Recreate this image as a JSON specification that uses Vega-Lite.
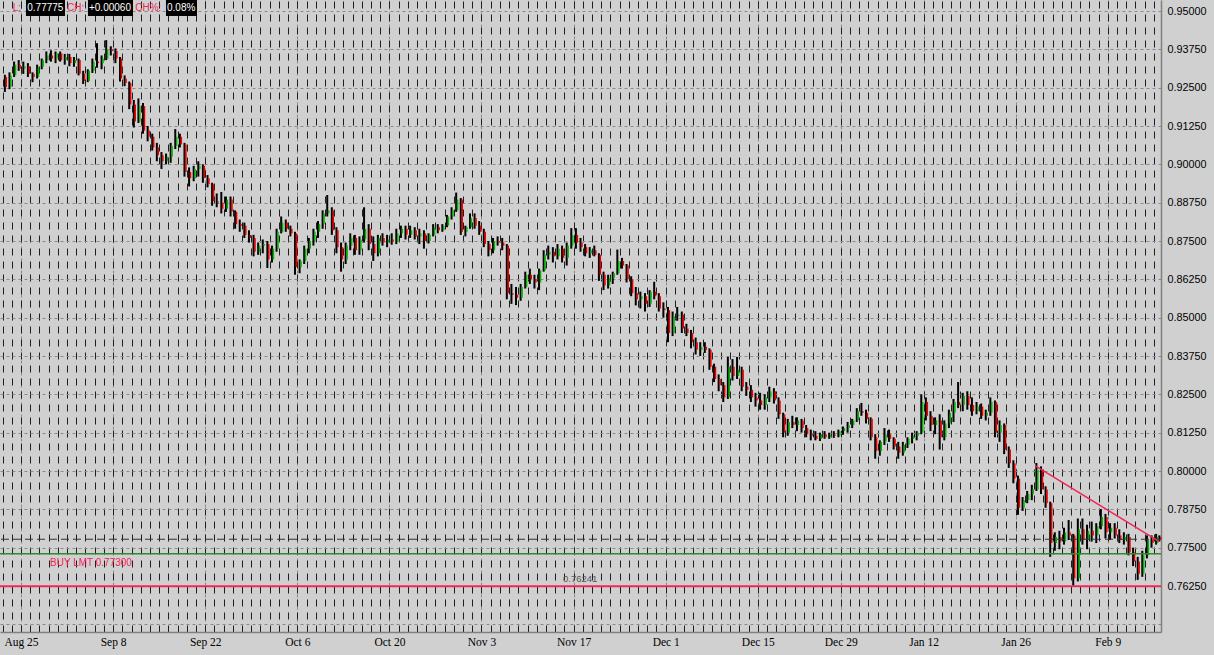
{
"$schema":"https://vega.github.io/schema/vega-lite/v6.json",
"width":1161,"height":632,
"autosize":{"type":"none"},
"padding":{"left":0,"top":0,"right":53,"bottom":23},
"background":"#d0d0d0",
"config":{"view":{"stroke":null},"font":"Liberation Sans","axis":{"labelOverlap":false}},
"resolve":{"axis":{"x":"independent","y":"independent"}},
"datasets":{
"bars":[
{"d":-1.75,"o":0.9285,"h":0.9292,"l":0.9236,"c":0.9252},
{"d":-1.25,"o":0.9252,"h":0.9300,"l":0.9245,"c":0.9290},
{"d":-0.75,"o":0.9290,"h":0.9335,"l":0.9285,"c":0.9325},
{"d":-0.25,"o":0.9325,"h":0.9340,"l":0.9305,"c":0.9312},
{"d":0.25,"o":0.9312,"h":0.9335,"l":0.9295,"c":0.9320},
{"d":0.75,"o":0.9320,"h":0.9330,"l":0.9285,"c":0.9295},
{"d":1.25,"o":0.9295,"h":0.9300,"l":0.9268,"c":0.9285},
{"d":1.75,"o":0.9285,"h":0.9325,"l":0.9280,"c":0.9318},
{"d":2.25,"o":0.9318,"h":0.9345,"l":0.9310,"c":0.9340},
{"d":2.75,"o":0.9340,"h":0.9368,"l":0.9330,"c":0.9355},
{"d":3.25,"o":0.9355,"h":0.9372,"l":0.9335,"c":0.9345},
{"d":3.75,"o":0.9345,"h":0.9368,"l":0.9330,"c":0.9362},
{"d":4.25,"o":0.9362,"h":0.9368,"l":0.9335,"c":0.9340},
{"d":4.75,"o":0.9340,"h":0.9360,"l":0.9325,"c":0.9350},
{"d":5.25,"o":0.9350,"h":0.9360,"l":0.9320,"c":0.9330},
{"d":5.75,"o":0.9330,"h":0.9350,"l":0.9318,"c":0.9340},
{"d":6.25,"o":0.9340,"h":0.9345,"l":0.9290,"c":0.9295},
{"d":6.75,"o":0.9295,"h":0.9305,"l":0.9262,"c":0.9272},
{"d":7.25,"o":0.9272,"h":0.9310,"l":0.9268,"c":0.9305},
{"d":7.75,"o":0.9305,"h":0.9345,"l":0.9298,"c":0.9335},
{"d":8.25,"o":0.9335,"h":0.9395,"l":0.9315,"c":0.9330},
{"d":8.75,"o":0.9330,"h":0.9355,"l":0.9310,"c":0.9345},
{"d":9.25,"o":0.9345,"h":0.9405,"l":0.9340,"c":0.9375},
{"d":9.75,"o":0.9375,"h":0.9385,"l":0.9355,"c":0.9370},
{"d":10.25,"o":0.9370,"h":0.9378,"l":0.9330,"c":0.9345},
{"d":10.75,"o":0.9345,"h":0.9350,"l":0.9270,"c":0.9280},
{"d":11.25,"o":0.9280,"h":0.9290,"l":0.9255,"c":0.9265},
{"d":11.75,"o":0.9265,"h":0.9270,"l":0.9180,"c":0.9195},
{"d":12.25,"o":0.9195,"h":0.9210,"l":0.9120,"c":0.9140},
{"d":12.75,"o":0.9140,"h":0.9215,"l":0.9135,"c":0.9190},
{"d":13.25,"o":0.9190,"h":0.9200,"l":0.9100,"c":0.9110},
{"d":13.75,"o":0.9110,"h":0.9125,"l":0.9075,"c":0.9090},
{"d":14.25,"o":0.9090,"h":0.9100,"l":0.9045,"c":0.9055},
{"d":14.75,"o":0.9055,"h":0.9070,"l":0.9010,"c":0.9030},
{"d":15.25,"o":0.9030,"h":0.9040,"l":0.8985,"c":0.9010},
{"d":15.75,"o":0.9010,"h":0.9035,"l":0.9000,"c":0.9025},
{"d":16.25,"o":0.9025,"h":0.9070,"l":0.9005,"c":0.9060},
{"d":16.75,"o":0.9060,"h":0.9115,"l":0.9050,"c":0.9090},
{"d":17.25,"o":0.9090,"h":0.9100,"l":0.9055,"c":0.9065},
{"d":17.75,"o":0.9065,"h":0.9070,"l":0.8960,"c":0.8975},
{"d":18.25,"o":0.8975,"h":0.8990,"l":0.8928,"c":0.8955},
{"d":18.75,"o":0.8955,"h":0.8995,"l":0.8945,"c":0.8985},
{"d":19.25,"o":0.8985,"h":0.9010,"l":0.8960,"c":0.8995},
{"d":19.75,"o":0.8995,"h":0.9000,"l":0.8940,"c":0.8955},
{"d":20.25,"o":0.8955,"h":0.8965,"l":0.8925,"c":0.8935},
{"d":20.75,"o":0.8935,"h":0.8940,"l":0.8865,"c":0.8880},
{"d":21.25,"o":0.8880,"h":0.8905,"l":0.8860,"c":0.8875},
{"d":21.75,"o":0.8875,"h":0.8910,"l":0.8840,"c":0.8855},
{"d":22.25,"o":0.8855,"h":0.8895,"l":0.8845,"c":0.8885},
{"d":22.75,"o":0.8885,"h":0.8895,"l":0.8830,"c":0.8845},
{"d":23.25,"o":0.8845,"h":0.8850,"l":0.8790,"c":0.8805},
{"d":23.75,"o":0.8805,"h":0.8820,"l":0.8780,"c":0.8800},
{"d":24.25,"o":0.8800,"h":0.8810,"l":0.8760,"c":0.8770},
{"d":24.75,"o":0.8770,"h":0.8785,"l":0.8745,"c":0.8760},
{"d":25.25,"o":0.8760,"h":0.8770,"l":0.8700,"c":0.8715},
{"d":25.75,"o":0.8715,"h":0.8745,"l":0.8705,"c":0.8735},
{"d":26.25,"o":0.8735,"h":0.8755,"l":0.8710,"c":0.8740},
{"d":26.75,"o":0.8740,"h":0.8750,"l":0.8662,"c":0.8690},
{"d":27.25,"o":0.8690,"h":0.8735,"l":0.8680,"c":0.8725},
{"d":27.75,"o":0.8725,"h":0.8790,"l":0.8715,"c":0.8780},
{"d":28.25,"o":0.8780,"h":0.8830,"l":0.8775,"c":0.8810},
{"d":28.75,"o":0.8810,"h":0.8820,"l":0.8780,"c":0.8790},
{"d":29.25,"o":0.8790,"h":0.8800,"l":0.8765,"c":0.8775},
{"d":29.75,"o":0.8775,"h":0.8780,"l":0.8640,"c":0.8665},
{"d":30.25,"o":0.8665,"h":0.8690,"l":0.8645,"c":0.8685},
{"d":30.75,"o":0.8685,"h":0.8735,"l":0.8675,"c":0.8725},
{"d":31.25,"o":0.8725,"h":0.8760,"l":0.8710,"c":0.8750},
{"d":31.75,"o":0.8750,"h":0.8790,"l":0.8735,"c":0.8780},
{"d":32.25,"o":0.8780,"h":0.8815,"l":0.8760,"c":0.8805},
{"d":32.75,"o":0.8805,"h":0.8850,"l":0.8790,"c":0.8840},
{"d":33.25,"o":0.8840,"h":0.8900,"l":0.8830,"c":0.8850},
{"d":33.75,"o":0.8850,"h":0.8860,"l":0.8770,"c":0.8785},
{"d":34.25,"o":0.8785,"h":0.8795,"l":0.8710,"c":0.8730},
{"d":34.75,"o":0.8730,"h":0.8745,"l":0.8650,"c":0.8690},
{"d":35.25,"o":0.8690,"h":0.8745,"l":0.8675,"c":0.8735},
{"d":35.75,"o":0.8735,"h":0.8775,"l":0.8720,"c":0.8760},
{"d":36.25,"o":0.8760,"h":0.8770,"l":0.8705,"c":0.8720},
{"d":36.75,"o":0.8720,"h":0.8765,"l":0.8705,"c":0.8755},
{"d":37.25,"o":0.8755,"h":0.8860,"l":0.8745,"c":0.8790},
{"d":37.75,"o":0.8790,"h":0.8805,"l":0.8720,"c":0.8740},
{"d":38.25,"o":0.8740,"h":0.8765,"l":0.8685,"c":0.8710},
{"d":38.75,"o":0.8710,"h":0.8770,"l":0.8700,"c":0.8760},
{"d":39.25,"o":0.8760,"h":0.8775,"l":0.8735,"c":0.8745},
{"d":39.75,"o":0.8745,"h":0.8770,"l":0.8730,"c":0.8755},
{"d":40.25,"o":0.8755,"h":0.8775,"l":0.8738,"c":0.8748},
{"d":40.75,"o":0.8748,"h":0.8790,"l":0.8740,"c":0.8775},
{"d":41.25,"o":0.8775,"h":0.8800,"l":0.8760,"c":0.8790},
{"d":41.75,"o":0.8790,"h":0.8800,"l":0.8755,"c":0.8770},
{"d":42.25,"o":0.8770,"h":0.8800,"l":0.8760,"c":0.8785},
{"d":42.75,"o":0.8785,"h":0.8795,"l":0.8755,"c":0.8765},
{"d":43.25,"o":0.8765,"h":0.8790,"l":0.8740,"c":0.8775},
{"d":43.75,"o":0.8775,"h":0.8785,"l":0.8725,"c":0.8750},
{"d":44.25,"o":0.8750,"h":0.8775,"l":0.8742,"c":0.8770},
{"d":44.75,"o":0.8770,"h":0.8805,"l":0.8765,"c":0.8795},
{"d":45.25,"o":0.8795,"h":0.8805,"l":0.8775,"c":0.8785},
{"d":45.75,"o":0.8785,"h":0.8805,"l":0.8780,"c":0.8800},
{"d":46.25,"o":0.8800,"h":0.8835,"l":0.8795,"c":0.8830},
{"d":46.75,"o":0.8830,"h":0.8860,"l":0.8820,"c":0.8850},
{"d":47.25,"o":0.8850,"h":0.8908,"l":0.8845,"c":0.8885},
{"d":47.75,"o":0.8885,"h":0.8890,"l":0.8770,"c":0.8780},
{"d":48.25,"o":0.8780,"h":0.8800,"l":0.8765,"c":0.8795},
{"d":48.75,"o":0.8795,"h":0.8840,"l":0.8790,"c":0.8825},
{"d":49.25,"o":0.8825,"h":0.8840,"l":0.8790,"c":0.8800},
{"d":49.75,"o":0.8800,"h":0.8815,"l":0.8770,"c":0.8780},
{"d":50.25,"o":0.8780,"h":0.8790,"l":0.8730,"c":0.8740},
{"d":50.75,"o":0.8740,"h":0.8750,"l":0.8700,"c":0.8720},
{"d":51.25,"o":0.8720,"h":0.8760,"l":0.8710,"c":0.8750},
{"d":51.75,"o":0.8750,"h":0.8765,"l":0.8735,"c":0.8745},
{"d":52.25,"o":0.8745,"h":0.8760,"l":0.8720,"c":0.8735},
{"d":52.75,"o":0.8735,"h":0.8740,"l":0.8560,"c":0.8580},
{"d":53.25,"o":0.8580,"h":0.8610,"l":0.8545,"c":0.8575},
{"d":53.75,"o":0.8575,"h":0.8600,"l":0.8541,"c":0.8565},
{"d":54.25,"o":0.8565,"h":0.8610,"l":0.8555,"c":0.8600},
{"d":54.75,"o":0.8600,"h":0.8650,"l":0.8595,"c":0.8640},
{"d":55.25,"o":0.8640,"h":0.8660,"l":0.8610,"c":0.8625},
{"d":55.75,"o":0.8625,"h":0.8640,"l":0.8595,"c":0.8615},
{"d":56.25,"o":0.8615,"h":0.8660,"l":0.8590,"c":0.8655},
{"d":56.75,"o":0.8655,"h":0.8720,"l":0.8650,"c":0.8705},
{"d":57.25,"o":0.8705,"h":0.8735,"l":0.8690,"c":0.8715},
{"d":57.75,"o":0.8715,"h":0.8730,"l":0.8680,"c":0.8700},
{"d":58.25,"o":0.8700,"h":0.8740,"l":0.8690,"c":0.8725},
{"d":58.75,"o":0.8725,"h":0.8735,"l":0.8680,"c":0.8695},
{"d":59.25,"o":0.8695,"h":0.8745,"l":0.8670,"c":0.8735},
{"d":59.75,"o":0.8735,"h":0.8792,"l":0.8725,"c":0.8770},
{"d":60.25,"o":0.8770,"h":0.8792,"l":0.8725,"c":0.8745},
{"d":60.75,"o":0.8745,"h":0.8760,"l":0.8715,"c":0.8730},
{"d":61.25,"o":0.8730,"h":0.8740,"l":0.8700,"c":0.8710},
{"d":61.75,"o":0.8710,"h":0.8730,"l":0.8695,"c":0.8720},
{"d":62.25,"o":0.8720,"h":0.8735,"l":0.8700,"c":0.8705},
{"d":62.75,"o":0.8705,"h":0.8710,"l":0.8620,"c":0.8640},
{"d":63.25,"o":0.8640,"h":0.8650,"l":0.8590,"c":0.8605},
{"d":63.75,"o":0.8605,"h":0.8640,"l":0.8595,"c":0.8630},
{"d":64.25,"o":0.8630,"h":0.8650,"l":0.8610,"c":0.8645},
{"d":64.75,"o":0.8645,"h":0.8722,"l":0.8640,"c":0.8685},
{"d":65.25,"o":0.8685,"h":0.8695,"l":0.8660,"c":0.8670},
{"d":65.75,"o":0.8670,"h":0.8675,"l":0.8615,"c":0.8625},
{"d":66.25,"o":0.8625,"h":0.8635,"l":0.8570,"c":0.8580},
{"d":66.75,"o":0.8580,"h":0.8600,"l":0.8540,"c":0.8560},
{"d":67.25,"o":0.8560,"h":0.8585,"l":0.8530,"c":0.8570},
{"d":67.75,"o":0.8570,"h":0.8580,"l":0.8520,"c":0.8545},
{"d":68.25,"o":0.8545,"h":0.8590,"l":0.8535,"c":0.8585},
{"d":68.75,"o":0.8585,"h":0.8617,"l":0.8560,"c":0.8570},
{"d":69.25,"o":0.8570,"h":0.8580,"l":0.8520,"c":0.8530},
{"d":69.75,"o":0.8530,"h":0.8550,"l":0.8500,"c":0.8525},
{"d":70.25,"o":0.8525,"h":0.8535,"l":0.8420,"c":0.8450},
{"d":70.75,"o":0.8450,"h":0.8520,"l":0.8440,"c":0.8505},
{"d":71.25,"o":0.8505,"h":0.8535,"l":0.8490,"c":0.8510},
{"d":71.75,"o":0.8510,"h":0.8520,"l":0.8450,"c":0.8465},
{"d":72.25,"o":0.8465,"h":0.8480,"l":0.8440,"c":0.8450},
{"d":72.75,"o":0.8450,"h":0.8460,"l":0.8400,"c":0.8420},
{"d":73.25,"o":0.8420,"h":0.8435,"l":0.8380,"c":0.8395},
{"d":73.75,"o":0.8395,"h":0.8420,"l":0.8375,"c":0.8405},
{"d":74.25,"o":0.8405,"h":0.8420,"l":0.8385,"c":0.8395},
{"d":74.75,"o":0.8395,"h":0.8400,"l":0.8330,"c":0.8340},
{"d":75.25,"o":0.8340,"h":0.8350,"l":0.8290,"c":0.8300},
{"d":75.75,"o":0.8300,"h":0.8315,"l":0.8260,"c":0.8280},
{"d":76.25,"o":0.8280,"h":0.8290,"l":0.8225,"c":0.8240},
{"d":76.75,"o":0.8240,"h":0.8372,"l":0.8235,"c":0.8340},
{"d":77.25,"o":0.8340,"h":0.8365,"l":0.8295,"c":0.8310},
{"d":77.75,"o":0.8310,"h":0.8372,"l":0.8300,"c":0.8330},
{"d":78.25,"o":0.8330,"h":0.8340,"l":0.8260,"c":0.8275},
{"d":78.75,"o":0.8275,"h":0.8290,"l":0.8245,"c":0.8265},
{"d":79.25,"o":0.8265,"h":0.8280,"l":0.8225,"c":0.8240},
{"d":79.75,"o":0.8240,"h":0.8255,"l":0.8210,"c":0.8230},
{"d":80.25,"o":0.8230,"h":0.8255,"l":0.8200,"c":0.8215},
{"d":80.75,"o":0.8215,"h":0.8250,"l":0.8200,"c":0.8240},
{"d":81.25,"o":0.8240,"h":0.8275,"l":0.8225,"c":0.8260},
{"d":81.75,"o":0.8260,"h":0.8270,"l":0.8220,"c":0.8230},
{"d":82.25,"o":0.8230,"h":0.8240,"l":0.8170,"c":0.8185},
{"d":82.75,"o":0.8185,"h":0.8190,"l":0.8110,"c":0.8125},
{"d":83.25,"o":0.8125,"h":0.8170,"l":0.8115,"c":0.8160},
{"d":83.75,"o":0.8160,"h":0.8180,"l":0.8140,"c":0.8150},
{"d":84.25,"o":0.8150,"h":0.8175,"l":0.8130,"c":0.8165},
{"d":84.75,"o":0.8165,"h":0.8170,"l":0.8125,"c":0.8140},
{"d":85.25,"o":0.8140,"h":0.8150,"l":0.8110,"c":0.8120},
{"d":85.75,"o":0.8120,"h":0.8135,"l":0.8100,"c":0.8115},
{"d":86.25,"o":0.8115,"h":0.8130,"l":0.8100,"c":0.8105},
{"d":86.75,"o":0.8105,"h":0.8125,"l":0.8098,"c":0.8120},
{"d":87.25,"o":0.8120,"h":0.8130,"l":0.8105,"c":0.8110},
{"d":87.75,"o":0.8110,"h":0.8125,"l":0.8105,"c":0.8118},
{"d":88.25,"o":0.8118,"h":0.8130,"l":0.8108,"c":0.8115},
{"d":88.75,"o":0.8115,"h":0.8135,"l":0.8110,"c":0.8130},
{"d":89.25,"o":0.8130,"h":0.8145,"l":0.8118,"c":0.8140},
{"d":89.75,"o":0.8140,"h":0.8160,"l":0.8125,"c":0.8150},
{"d":90.25,"o":0.8150,"h":0.8170,"l":0.8140,"c":0.8165},
{"d":90.75,"o":0.8165,"h":0.8205,"l":0.8160,"c":0.8195},
{"d":91.25,"o":0.8195,"h":0.8222,"l":0.8180,"c":0.8190},
{"d":91.75,"o":0.8190,"h":0.8200,"l":0.8155,"c":0.8170},
{"d":92.25,"o":0.8170,"h":0.8175,"l":0.8100,"c":0.8110},
{"d":92.75,"o":0.8110,"h":0.8120,"l":0.8040,"c":0.8065},
{"d":93.25,"o":0.8065,"h":0.8100,"l":0.8050,"c":0.8095},
{"d":93.75,"o":0.8095,"h":0.8140,"l":0.8085,"c":0.8120},
{"d":94.25,"o":0.8120,"h":0.8135,"l":0.8095,"c":0.8105},
{"d":94.75,"o":0.8105,"h":0.8110,"l":0.8070,"c":0.8080},
{"d":95.25,"o":0.8080,"h":0.8095,"l":0.8040,"c":0.8060},
{"d":95.75,"o":0.8060,"h":0.8095,"l":0.8050,"c":0.8085},
{"d":96.25,"o":0.8085,"h":0.8110,"l":0.8075,"c":0.8105},
{"d":96.75,"o":0.8105,"h":0.8125,"l":0.8090,"c":0.8115},
{"d":97.25,"o":0.8115,"h":0.8130,"l":0.8100,"c":0.8125},
{"d":97.75,"o":0.8125,"h":0.8250,"l":0.8120,"c":0.8225},
{"d":98.25,"o":0.8225,"h":0.8240,"l":0.8165,"c":0.8180},
{"d":98.75,"o":0.8180,"h":0.8195,"l":0.8130,"c":0.8150},
{"d":99.25,"o":0.8150,"h":0.8175,"l":0.8120,"c":0.8165},
{"d":99.75,"o":0.8165,"h":0.8185,"l":0.8070,"c":0.8110},
{"d":100.25,"o":0.8110,"h":0.8165,"l":0.8100,"c":0.8155},
{"d":100.75,"o":0.8155,"h":0.8200,"l":0.8140,"c":0.8190},
{"d":101.25,"o":0.8190,"h":0.8235,"l":0.8160,"c":0.8225},
{"d":101.75,"o":0.8225,"h":0.8290,"l":0.8205,"c":0.8215},
{"d":102.25,"o":0.8215,"h":0.8255,"l":0.8195,"c":0.8245},
{"d":102.75,"o":0.8245,"h":0.8260,"l":0.8200,"c":0.8215},
{"d":103.25,"o":0.8215,"h":0.8240,"l":0.8180,"c":0.8195},
{"d":103.75,"o":0.8195,"h":0.8225,"l":0.8185,"c":0.8210},
{"d":104.25,"o":0.8210,"h":0.8220,"l":0.8170,"c":0.8180},
{"d":104.75,"o":0.8180,"h":0.8200,"l":0.8165,"c":0.8190},
{"d":105.25,"o":0.8190,"h":0.8240,"l":0.8180,"c":0.8225},
{"d":105.75,"o":0.8225,"h":0.8230,"l":0.8110,"c":0.8125},
{"d":106.25,"o":0.8125,"h":0.8165,"l":0.8095,"c":0.8150},
{"d":106.75,"o":0.8150,"h":0.8155,"l":0.8055,"c":0.8070},
{"d":107.25,"o":0.8070,"h":0.8080,"l":0.8010,"c":0.8025},
{"d":107.75,"o":0.8025,"h":0.8035,"l":0.7960,"c":0.7975},
{"d":108.25,"o":0.7975,"h":0.7985,"l":0.7857,"c":0.7880},
{"d":108.75,"o":0.7880,"h":0.7915,"l":0.7870,"c":0.7905},
{"d":109.25,"o":0.7905,"h":0.7935,"l":0.7895,"c":0.7925},
{"d":109.75,"o":0.7925,"h":0.7955,"l":0.7905,"c":0.7940},
{"d":110.25,"o":0.7940,"h":0.8026,"l":0.7935,"c":0.8005},
{"d":110.75,"o":0.8005,"h":0.8015,"l":0.7925,"c":0.7940},
{"d":111.25,"o":0.7940,"h":0.7950,"l":0.7880,"c":0.7895},
{"d":111.75,"o":0.7895,"h":0.7900,"l":0.7720,"c":0.7765},
{"d":112.25,"o":0.7765,"h":0.7800,"l":0.7740,"c":0.7785},
{"d":112.75,"o":0.7785,"h":0.7805,"l":0.7745,"c":0.7770},
{"d":113.25,"o":0.7770,"h":0.7815,"l":0.7760,"c":0.7800},
{"d":113.75,"o":0.7800,"h":0.7840,"l":0.7775,"c":0.7790},
{"d":114.25,"o":0.7790,"h":0.7795,"l":0.7626,"c":0.7650},
{"d":114.75,"o":0.7650,"h":0.7845,"l":0.7640,"c":0.7810},
{"d":115.25,"o":0.7810,"h":0.7845,"l":0.7760,"c":0.7775},
{"d":115.75,"o":0.7775,"h":0.7825,"l":0.7745,"c":0.7805},
{"d":116.25,"o":0.7805,"h":0.7835,"l":0.7770,"c":0.7790},
{"d":116.75,"o":0.7790,"h":0.7830,"l":0.7765,"c":0.7820},
{"d":117.25,"o":0.7820,"h":0.7876,"l":0.7810,"c":0.7850},
{"d":117.75,"o":0.7850,"h":0.7860,"l":0.7780,"c":0.7800},
{"d":118.25,"o":0.7800,"h":0.7830,"l":0.7775,"c":0.7815},
{"d":118.75,"o":0.7815,"h":0.7830,"l":0.7780,"c":0.7790},
{"d":119.25,"o":0.7790,"h":0.7810,"l":0.7765,"c":0.7775},
{"d":119.75,"o":0.7775,"h":0.7800,"l":0.7760,"c":0.7785},
{"d":120.25,"o":0.7785,"h":0.7795,"l":0.7725,"c":0.7735},
{"d":120.75,"o":0.7735,"h":0.7750,"l":0.7690,"c":0.7705},
{"d":121.25,"o":0.7705,"h":0.7720,"l":0.7645,"c":0.7665},
{"d":121.75,"o":0.7665,"h":0.7740,"l":0.7655,"c":0.7725},
{"d":122.25,"o":0.7725,"h":0.7790,"l":0.7715,"c":0.7775},
{"d":122.75,"o":0.7775,"h":0.7790,"l":0.7750,"c":0.7765},
{"d":123.25,"o":0.7765,"h":0.7795,"l":0.7760,"c":0.7785},
{"d":123.6,"o":0.7785,"h":0.7790,"l":0.7770,"c":0.77775}
],
"trend":[{"d":110.1,"p":0.80173},{"d":123.6,"p":0.77694}],
"boxes":[{"d1":0.54,"d2":4.78,"p1":0.94837,"p2":0.95359},{"d1":7.27,"d2":12.16,"p1":0.94837,"p2":0.95359},{"d1":15.74,"d2":19.11,"p1":0.94837,"p2":0.95359}],
"header":[
{"d":-0.9,"p":0.95098,"t":"L:","k":"key"},
{"d":0.68,"p":0.95098,"t":"0.77775","k":"val"},
{"d":5.0,"p":0.95098,"t":"CH:","k":"key"},
{"d":7.38,"p":0.95098,"t":"+0.00060","k":"val"},
{"d":12.4,"p":0.95098,"t":"CH%:","k":"key"},
{"d":15.85,"p":0.95098,"t":"0.08%","k":"val"}
]
},
"layer":[
{"data":{"name":"bars"},
 "mark":{"type":"rule","color":"#000000","strokeWidth":2},
 "encoding":{
  "x":{"field":"d","type":"quantitative","scale":{"domain":[-2.28,123.78],"nice":false,"zero":false},
   "axis":{"orient":"bottom","title":null,"values":[0,10,20,30,40,50,60,70,80,89,98,108,118],
    "labelExpr":"['Aug 25','Sep 8','Sep 22','Oct 6','Oct 20','Nov 3','Nov 17','Dec 1','Dec 15','Dec 29','Jan 12','Jan 26','Feb 9'][indexof([0,10,20,30,40,50,60,70,80,89,98,108,118], datum.value)]",
    "grid":true,"gridColor":"#8a8a8a","gridDash":[3,3],"gridWidth":1,"ticks":false,"labelPadding":4,
    "labelFont":"Liberation Serif","labelFontSize":11.5,"labelColor":"#000000","labelOverlap":false,"labelFlush":false,
    "domainColor":"#808080","domainWidth":1.5}},
  "y":{"field":"l","type":"quantitative","title":null,"scale":{"domain":[0.7475,0.95359],"nice":false,"zero":false},
   "axis":{"orient":"right","title":null,"values":[0.75,0.7625,0.775,0.7875,0.8,0.8125,0.825,0.8375,0.85,0.8625,0.875,0.8875,0.9,0.9125,0.925,0.9375,0.95],
    "labelExpr":"datum.value < 0.76 ? '' : format(datum.value, '.5f')",
    "grid":true,"gridColor":"#8a8a8a","gridDash":[3,3],"gridWidth":1,"ticks":false,"labelPadding":6,
    "labelFont":"Liberation Sans","labelFontSize":10.8,"labelColor":"#000000","labelOverlap":false,"labelFlush":false,"labelBound":false,
    "domainColor":"#808080","domainWidth":1.5}},
  "y2":{"field":"h"}
 }},
{"data":{"name":"bars"},
 "mark":{"type":"rule","strokeWidth":1.6,"xOffset":1.4},
 "encoding":{
  "x":{"field":"d","type":"quantitative","scale":{"domain":[-2.28,123.78],"nice":false,"zero":false},
   "axis":{"orient":"top","title":null,"labels":false,"ticks":false,"domain":false,"grid":true,"gridColor":"#1e1e1e","gridDash":[7,6],"gridWidth":1,
    "values":[-2,-1,0,1,2,3,4,5,6,7,8,9,10,11,12,13,14,15,16,17,18,19,20,21,22,23,24,25,26,27,28,29,30,31,32,33,34,35,36,37,38,39,40,41,42,43,44,45,46,47,48,49,50,51,52,53,54,55,56,57,58,59,60,61,62,63,64,65,66,67,68,69,70,71,72,73,74,75,76,77,78,79,80,81,82,83,84,85,86,87,88,89,90,91,92,93,94,95,96,97,98,99,100,101,102,103,104,105,106,107,108,109,110,111,112,113,114,115,116,117,118,119,120,121,122,123]}},
  "y":{"field":"o","type":"quantitative","title":null,"axis":null,"scale":{"domain":[0.7475,0.95359],"nice":false,"zero":false}},
  "y2":{"field":"c"},
  "color":{"condition":{"test":"datum.c >= datum.o","value":"#00b400"},"value":"#e60000"}
 }},
{"data":{"values":[{"p":0.77775}]},
 "mark":{"type":"rule","color":"#333333","strokeWidth":1,"strokeDash":[8,4]},
 "encoding":{"y":{"field":"p","type":"quantitative","title":null,"axis":null,"scale":{"domain":[0.7475,0.95359],"nice":false,"zero":false}}}},
{"data":{"values":[{"p":0.773}]},
 "mark":{"type":"rule","color":"#2f8a2f","strokeWidth":1.5},
 "encoding":{"y":{"field":"p","type":"quantitative","title":null,"axis":null,"scale":{"domain":[0.7475,0.95359],"nice":false,"zero":false}}}},
{"data":{"values":[{"p":0.76241}]},
 "mark":{"type":"rule","color":"#f0265a","strokeWidth":2},
 "encoding":{"y":{"field":"p","type":"quantitative","title":null,"axis":null,"scale":{"domain":[0.7475,0.95359],"nice":false,"zero":false}}}},
{"data":{"name":"trend"},
 "mark":{"type":"line","color":"#f0265a","strokeWidth":1.5},
 "encoding":{
  "x":{"field":"d","type":"quantitative","axis":null,"scale":{"domain":[-2.28,123.78],"nice":false,"zero":false}},
  "y":{"field":"p","type":"quantitative","title":null,"axis":null,"scale":{"domain":[0.7475,0.95359],"nice":false,"zero":false}}}},
{"data":{"values":[{"d":3.15,"p":0.773,"t":"BUY LMT 0.77300"}]},
 "mark":{"type":"text","align":"left","baseline":"top","dy":4,"fontSize":10,"font":"Liberation Sans","color":"#f0265a"},
 "encoding":{
  "x":{"field":"d","type":"quantitative","axis":null,"scale":{"domain":[-2.28,123.78],"nice":false,"zero":false}},
  "y":{"field":"p","type":"quantitative","title":null,"axis":null,"scale":{"domain":[0.7475,0.95359],"nice":false,"zero":false}},
  "text":{"field":"t"}}},
{"data":{"values":[{"d":58.85,"p":0.76241,"t":"0.76241"}]},
 "mark":{"type":"text","align":"left","baseline":"bottom","dy":-2,"fontSize":9.5,"font":"Liberation Sans","color":"#555555"},
 "encoding":{
  "x":{"field":"d","type":"quantitative","axis":null,"scale":{"domain":[-2.28,123.78],"nice":false,"zero":false}},
  "y":{"field":"p","type":"quantitative","title":null,"axis":null,"scale":{"domain":[0.7475,0.95359],"nice":false,"zero":false}},
  "text":{"field":"t"}}},
{"data":{"name":"boxes"},
 "mark":{"type":"rect","color":"#000000"},
 "encoding":{
  "x":{"field":"d1","type":"quantitative","axis":null,"scale":{"domain":[-2.28,123.78],"nice":false,"zero":false}},
  "x2":{"field":"d2"},
  "y":{"field":"p1","type":"quantitative","title":null,"axis":null,"scale":{"domain":[0.7475,0.95359],"nice":false,"zero":false}},
  "y2":{"field":"p2"}}},
{"data":{"name":"header"},
 "mark":{"type":"text","align":"left","baseline":"middle","fontSize":10,"font":"Liberation Sans"},
 "encoding":{
  "x":{"field":"d","type":"quantitative","axis":null,"scale":{"domain":[-2.28,123.78],"nice":false,"zero":false}},
  "y":{"field":"p","type":"quantitative","title":null,"axis":null,"scale":{"domain":[0.7475,0.95359],"nice":false,"zero":false}},
  "text":{"field":"t"},
  "color":{"field":"k","type":"nominal","legend":null,"scale":{"domain":["key","val"],"range":["#f0265a","#ffffff"]}}}}
]
}
